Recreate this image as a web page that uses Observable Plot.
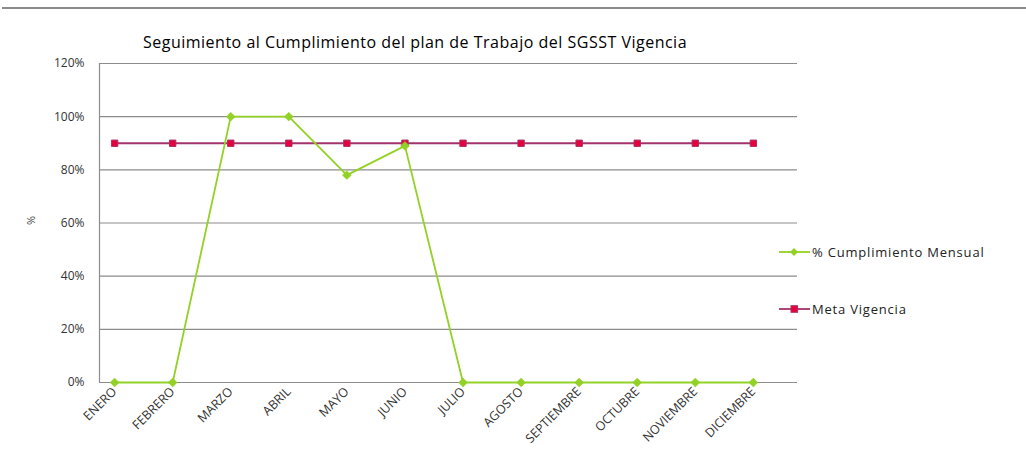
<!DOCTYPE html>
<html><head><meta charset="utf-8">
<script src="https://cdn.jsdelivr.net/npm/d3@7"></script>
<script src="https://cdn.jsdelivr.net/npm/@observablehq/plot@0.6"></script>
<style>
html,body{margin:0;padding:0;background:#fff;}
#wrap{position:relative;width:1026px;height:472px;font-family:"Open Sans",sans-serif;}
#topline{position:absolute;left:2px;right:0;top:7px;height:2px;background:#8a8a8a;}
#title{position:absolute;left:0;width:830px;top:31px;text-align:center;font-size:16px;letter-spacing:0.5px;color:#000;}
#ylab{position:absolute;left:26px;top:213px;font-size:11px;color:#444;transform:rotate(-90deg);}
.leg{position:absolute;left:779px;font-size:13px;letter-spacing:0.8px;color:#222;display:flex;align-items:center;}
.leg svg{margin-right:2px;}
</style></head>
<body><div id="wrap"><div id="topline"></div><div id="title"></div><div id="ylab">%</div><div id="chart"></div></div>
<script>
const title = "Seguimiento al Cumplimiento del plan de Trabajo del SGSST Vigencia";
const months = ["ENERO","FEBRERO","MARZO","ABRIL","MAYO","JUNIO","JULIO","AGOSTO","SEPTIEMBRE","OCTUBRE","NOVIEMBRE","DICIEMBRE"];
const cumplimiento = [0, 0, 1.00, 1.00, 0.78, 0.89, 0, 0, 0, 0, 0, 0];
const meta = [0.9, 0.9, 0.9, 0.9, 0.9, 0.9, 0.9, 0.9, 0.9, 0.9, 0.9, 0.9];
const seriesNames = ["% Cumplimiento Mensual", "Meta Vigencia"];
const yTicks = [0, 0.2, 0.4, 0.6, 0.8, 1.0, 1.2];

const green = "#92d125", maroon = "#a3336b", red = "#e8003a";
const rowsC = months.map((m, i) => ({i, v: cumplimiento[i]}));
const rowsM = months.map((m, i) => ({i, v: meta[i]}));

document.getElementById("title").textContent = title;

const chart = Plot.plot({
  width: 1026, height: 472,
  marginLeft: 99, marginRight: 229, marginTop: 63, marginBottom: 90,
  style: {fontFamily: "Open Sans, sans-serif", fontSize: "12px", color: "#333", background: "transparent"},
  x: {type: "linear", domain: [-0.26, 11.76], label: null},
  y: {domain: [0, 1.2], label: null},
  marks: [
    Plot.axisX({ticks: d3.range(months.length), tickFormat: i => months[i], tickRotate: -45, tickSize: 0, tickPadding: 7, fontSize: 12.5, label: null}),
    Plot.axisY({ticks: yTicks, tickFormat: d3.format(".0%"), tickSize: 0, tickPadding: 15, fontSize: 12, label: null}),
    Plot.ruleY(yTicks, {stroke: "#8c8c8c", strokeWidth: 1.2}),
    Plot.ruleX([-0.26], {stroke: "#8c8c8c", strokeWidth: 1.2}),
    Plot.line(rowsM, {x: "i", y: "v", stroke: maroon, strokeWidth: 1.8}),
    Plot.dot(rowsM, {x: "i", y: "v", symbol: "square", r: 3.6, fill: red, stroke: maroon, strokeWidth: 1}),
    Plot.line(rowsC, {x: "i", y: "v", stroke: green, strokeWidth: 1.8}),
    Plot.dot(rowsC, {x: "i", y: "v", symbol: "diamond2", r: 4, fill: green, stroke: green, strokeWidth: 0.5})
  ]
});
document.getElementById("chart").appendChild(chart);

// legend
const wrap = document.getElementById("wrap");
const legTops = [243, 300];
seriesNames.forEach((name, k) => {
  const d = document.createElement("div");
  d.className = "leg";
  d.style.top = legTops[k] + "px";
  const col = k === 0 ? green : maroon;
  const marker = k === 0
    ? `<path d="M15,-4 L19,0 L15,4 L11,0Z" fill="${green}"/>`
    : `<rect x="12" y="-3.3" width="6.6" height="6.6" fill="${red}" stroke="${maroon}" stroke-width="1"/>`;
  d.innerHTML = `<svg width="31" height="14" viewBox="0 -7 31 14"><line x1="0" x2="31" y1="0" y2="0" stroke="${col}" stroke-width="1.8"/>${marker}</svg><span>${name}</span>`;
  wrap.appendChild(d);
});
</script>
</body></html>
